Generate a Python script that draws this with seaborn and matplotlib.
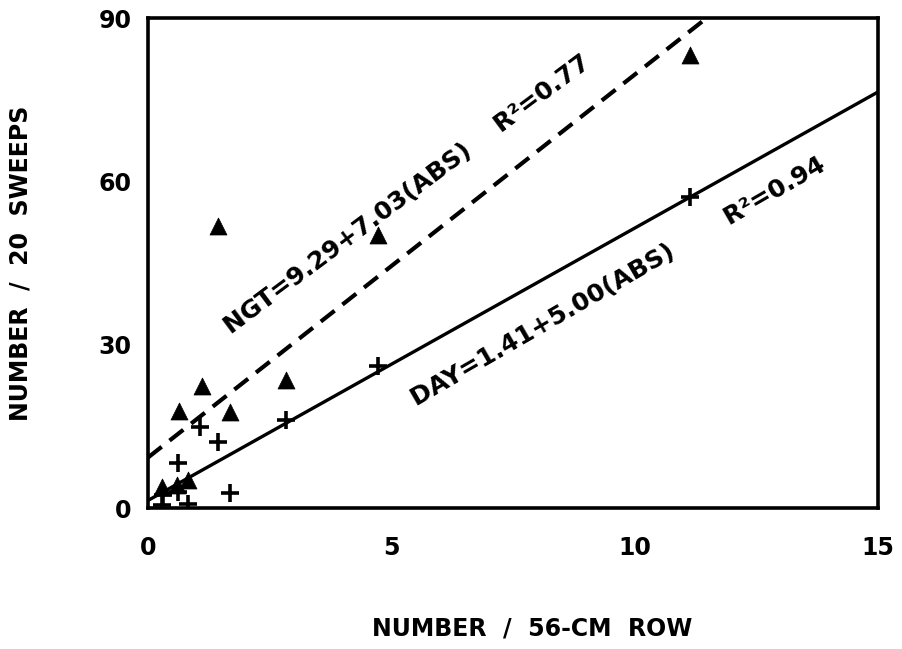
import pandas as pd
import matplotlib
matplotlib.use("Agg")
import matplotlib.pyplot as plt
import seaborn as sns

# -------------------------
# Data
# -------------------------
ngt_x = [0.28, 0.60, 0.82, 0.64, 1.11, 1.44, 1.68, 2.84, 4.73, 11.14]
ngt_y = [3.8, 4.2, 5.2, 17.9, 22.5, 51.9, 17.7, 23.6, 50.1, 83.2]

day_x = [0.28, 0.30, 0.62, 0.82, 0.62, 1.07, 1.44, 1.68, 2.84, 4.73, 11.14]
day_y = [0.5, 2.5, 3.0, 0.8, 8.3, 14.9, 12.2, 2.8, 16.2, 26.1, 57.1]

# regression fits (intercept, slope)
ngt_fit = (9.29, 7.03)
day_fit = (1.41, 5.00)
fit_x = [0, 15]

x_ticks = [0, 5, 10, 15]
y_ticks = [0, 30, 60, 90]

ngt = pd.DataFrame({"x": ngt_x, "y": ngt_y})
day = pd.DataFrame({"x": day_x, "y": day_y})
ngt_line = pd.DataFrame({"x": fit_x, "y": [ngt_fit[0] + ngt_fit[1] * v for v in fit_x]})
day_line = pd.DataFrame({"x": fit_x, "y": [day_fit[0] + day_fit[1] * v for v in fit_x]})

# -------------------------
# Plot
# -------------------------
sns.set_style("white", rc={"text.color": "black", "axes.labelcolor": "black",
                           "xtick.color": "black", "ytick.color": "black",
                           "axes.edgecolor": "black"})
plt.rcParams["font.family"] = ["DejaVu Sans"]
plt.rcParams["font.weight"] = "bold"

fig = plt.figure(figsize=(9.02, 6.49), dpi=100)
ax = fig.add_axes([0.164, 0.217, 0.809, 0.755])

sns.lineplot(data=ngt_line, x="x", y="y", ax=ax, color="black", lw=3,
             linestyle=(0, (4.2, 2.4)))
sns.lineplot(data=day_line, x="x", y="y", ax=ax, color="black", lw=2.4)

sns.scatterplot(data=ngt, x="x", y="y", ax=ax, marker="^", s=150,
                color="black", edgecolor="black", linewidth=0.5, zorder=3)
sns.scatterplot(data=day, x="x", y="y", ax=ax, marker="+", s=180,
                color="black", linewidth=2.6, zorder=3)

ax.set_xlim(0, 15)
ax.set_ylim(0, 90)
ax.set_xticks(x_ticks)
ax.set_yticks(y_ticks)
ax.tick_params(direction="in", length=9, width=1.8, labelsize=17)
ax.tick_params(axis="x", pad=20)
ax.tick_params(axis="y", pad=12)
for s in ax.spines.values():
    s.set_linewidth(2.6)

ax.set_xlabel("NUMBER  /  56-CM  ROW", fontsize=17, fontweight="bold")
ax.xaxis.set_label_coords(0.526, -0.222)
ax.set_ylabel("NUMBER  /  20  SWEEPS", fontsize=17, fontweight="bold")
ax.yaxis.set_label_coords(-0.158, 0.5)

ax.text(5.34, 57.6, "NGT=9.29+7.03(ABS)    R\u00b2=0.77", rotation=36.7,
        ha="center", va="center", fontsize=18, fontweight="bold")
ax.text(9.68, 41.5, "DAY=1.41+5.00(ABS)       R\u00b2=0.94", rotation=30,
        ha="center", va="center", fontsize=18, fontweight="bold")

plt.savefig("out.png", dpi=100)
